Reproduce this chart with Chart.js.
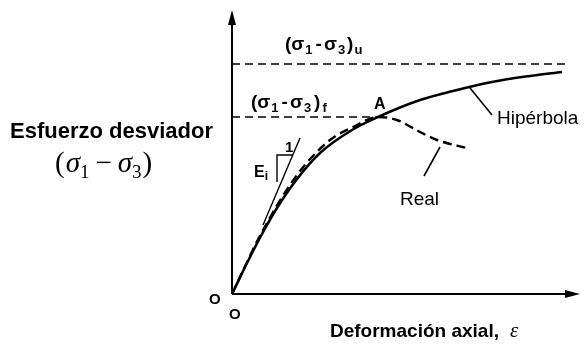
<!DOCTYPE html>
<html>
<head>
<meta charset="utf-8">
<script src="https://cdn.jsdelivr.net/npm/chart.js@4"></script>
<style>
  html, body { margin: 0; padding: 0; background: #fff; }
  #wrap { width: 585px; height: 350px; }
</style>
</head>
<body>
<div id="wrap"><canvas id="myChart" width="585" height="350"></canvas></div>
<script>
// deformacion axial (unidades arbitrarias) y esfuerzo desviador
const hipX = [0, 0.3, 0.6, 0.9, 1.3, 1.76, 2.4, 2.92, 3.76, 4.42, 5.2, 5.96, 6.6];
const hipY = [0, 1.55, 3.0, 4.3, 5.75, 7.05, 8.2, 8.85, 9.7, 10.15, 10.6, 10.9, 11.1];
const realX = [0, 0.6, 1.3, 1.96, 2.42, 2.92, 3.3, 3.76, 4.1, 4.7];
const realY = [0, 3.1, 5.95, 7.7, 8.35, 8.85, 8.7, 8.1, 7.7, 7.3];
const asintotaY = 11.5;   // (s1-s3)u
const falla = [2.92, 8.85]; // punto A, (s1-s3)f
const tangX = [0.62, 1.36];
const tangY = [3.45, 7.8];
const triX = [0.9, 0.9, 1.22];
const triY = [5.6, 6.95, 6.95];
const flechaHipX = [4.76, 5.2];
const flechaHipY = [10.3, 8.95];
const flechaRealX = [4.16, 3.84];
const flechaRealY = [7.35, 5.9];

function pts(xs, ys) {
    return xs.map((x, i) => ({ x: x, y: ys[i] }));
}

function linea(data, width, dash) {
    return {
        data: data,
        borderColor: '#000',
        borderWidth: width,
        borderDash: dash || [],
        pointRadius: 0,
        fill: false,
        tension: 0
    };
}

function texto(ctx, x, y, partes) {
    partes.forEach((p) => {
        ctx.font = p.f;
        ctx.fillText(p.t, x, y + (p.dy || 0));
        x += ctx.measureText(p.t).width + (p.sp || 0);
    });
}

const dibujos = {
    id: 'dibujos',
    beforeDatasetsDraw(chart) {
        const c = chart.ctx;
        const sx = chart.scales.x, sy = chart.scales.y;
        const x0 = sx.getPixelForValue(0), y0 = sy.getPixelForValue(0);
        const xm = sx.getPixelForValue(sx.max) - 2, ym = sy.getPixelForValue(sy.max);
        c.save();
        c.strokeStyle = '#000';
        c.fillStyle = '#000';
        c.lineWidth = 2;
        c.beginPath();
        c.moveTo(x0, y0); c.lineTo(xm - 8, y0);
        c.moveTo(x0, y0); c.lineTo(x0, ym + 8);
        c.stroke();
        c.beginPath();
        c.moveTo(xm, y0); c.lineTo(xm - 15, y0 - 4); c.lineTo(xm - 15, y0 + 4); c.closePath();
        c.moveTo(x0, ym); c.lineTo(x0 - 4, ym + 15); c.lineTo(x0 + 4, ym + 15); c.closePath();
        c.fill();
        c.restore();
    },
    afterDraw(chart) {
        const c = chart.ctx;
        const sx = chart.scales.x, sy = chart.scales.y;
        const px = (v) => sx.getPixelForValue(v), py = (v) => sy.getPixelForValue(v);
        c.save();
        c.fillStyle = '#000';
        c.textBaseline = 'alphabetic';
        const sb = 'bold 19px "Liberation Sans"', ss = 'bold 13px "Liberation Sans"';
        texto(c, 285, 50, [
            { t: '(σ', f: sb, sp: 1 }, { t: '1', f: ss, dy: 4, sp: 3 }, { t: '-', f: sb, sp: 2 }, { t: 'σ', f: sb, sp: 1 },
            { t: '3', f: ss, dy: 4, sp: 2 }, { t: ')', f: sb, sp: 1 }, { t: 'u', f: ss, dy: 4 }
        ]);
        texto(c, 251, 108, [
            { t: '(σ', f: sb, sp: 1 }, { t: '1', f: ss, dy: 4, sp: 3 }, { t: '-', f: sb, sp: 2 }, { t: 'σ', f: sb, sp: 1 },
            { t: '3', f: ss, dy: 4, sp: 3 }, { t: ')', f: sb, sp: 2 }, { t: 'f', f: ss, dy: 4 }
        ]);
        c.font = 'bold 16px "Liberation Sans"';
        c.fillText('A', px(falla[0]) - 4, py(falla[1]) - 8);
        c.font = 'bold 15px "Liberation Sans"';
        c.fillText('1', 285, 152);
        texto(c, 254, 177, [{ t: 'E', f: 'bold 16px "Liberation Sans"' }, { t: 'i', f: 'bold 12px "Liberation Sans"', dy: 3 }]);
        c.font = 'bold 15px "Liberation Sans"';
        c.fillText('O', 209, 304);
        c.fillText('O', 229, 319);
        c.font = '19px "Liberation Sans"';
        c.fillText('Hipérbola', 497, 124);
        c.fillText('Real', 400, 205);
        c.font = 'bold 22px "Liberation Sans"';
        c.fillText('Esfuerzo desviador', 10, 138);
        c.font = 'bold 19px "Liberation Sans"';
        c.fillText('Deformación axial,', 330, 337);
        c.font = 'italic 21px "Liberation Serif"';
        c.fillText('ε', 510, 337);
        const ser = '29px "Liberation Serif"', seri = 'italic 29px "Liberation Serif"', sub = '19px "Liberation Serif"';
        texto(c, 55, 172, [
            { t: '(', f: ser, sp: 1 }, { t: 'σ', f: seri }, { t: '1', f: sub, dy: 6, sp: 6 },
            { t: '−', f: ser, sp: 6 }, { t: 'σ', f: seri }, { t: '3', f: sub, dy: 6, sp: 1 }, { t: ')', f: ser }
        ]);
        c.restore();
    }
};

const ctx = document.getElementById('myChart');
const chart = new Chart(ctx, {
    type: 'line',
    data: {
        datasets: [
            Object.assign(linea(pts(hipX, hipY), 2.6), { cubicInterpolationMode: 'monotone' }),
            Object.assign(linea(pts(realX, realY), 2.4, [9, 5]), { cubicInterpolationMode: 'monotone' }),
            linea([{ x: 0, y: asintotaY }, { x: 6.7, y: asintotaY }], 1.6, [8, 5]),
            linea([{ x: 0, y: falla[1] }, { x: falla[0], y: falla[1] }], 1.6, [8, 5]),
            linea(pts(tangX, tangY), 1.4),
            linea(pts(triX, triY), 1.4),
            linea(pts(flechaHipX, flechaHipY), 1.6),
            linea(pts(flechaRealX, flechaRealY), 1.6)
        ]
    },
    options: {
        responsive: false,
        animation: false,
        layout: { padding: { left: 232, right: 3, top: 10, bottom: 56 } },
        plugins: { legend: { display: false }, tooltip: { enabled: false } },
        scales: {
            x: { type: 'linear', min: 0, max: 7, display: false },
            y: { type: 'linear', min: 0, max: 14.2, display: false }
        }
    },
    plugins: [dibujos]
});
</script>
</body>
</html>
